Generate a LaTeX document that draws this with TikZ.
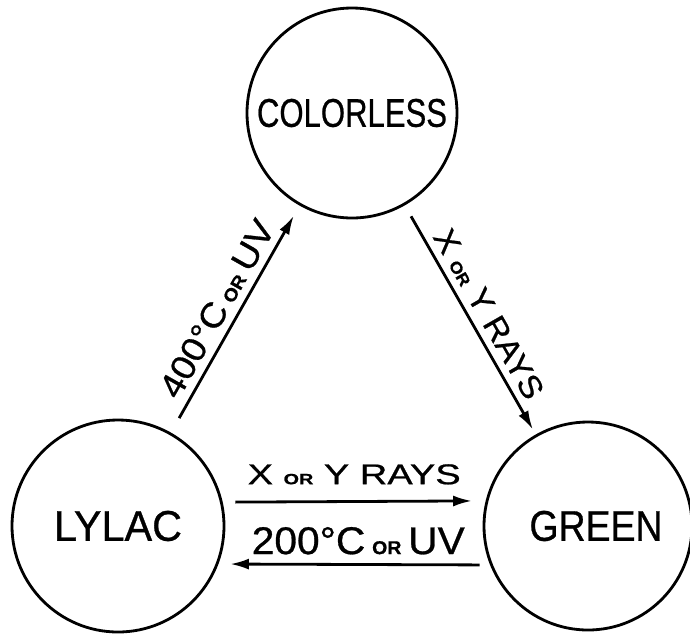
\documentclass[tikz,border=0pt]{standalone}
\usepackage{fontspec}
\setmainfont{Liberation Sans}[FakeBold=0.7]
\usetikzlibrary{arrows.meta}
\newcommand{\fitlbl}[3]{\resizebox{#1}{#2}{#3}}
\newcommand{\smor}{{\fontsize{5.2}{6}\selectfont\bfseries OR}}
\newcommand{\smorb}{{\fontsize{4.8}{6}\selectfont\bfseries OR}}
\begin{document}
\begin{tikzpicture}[x=1pt,y=-1pt,
  state/.style={circle, draw, line width=2.8pt, inner sep=0pt, outer sep=0pt, minimum size=#1},
  arr/.style={line width=2.8pt, -{Latex[length=19pt,width=11pt]}},
  lbl/.style={inner sep=0pt, outer sep=0pt}]
\useasboundingbox (0,0) rectangle (690,633);
\node[state=210pt] (colorless) at (352,113) {\fitlbl{190pt}{28pt}{COLORLESS}};
\node[state=212pt] (lylac) at (118,526) {\fitlbl{128pt}{30pt}{LYLAC}};
\node[state=208pt] (green) at (588,526) {\hspace*{16pt}\fitlbl{133pt}{30pt}{GREEN}};
\draw[arr, shorten <=18pt, shorten >=13pt] (lylac) -- (colorless)
  node[lbl, midway, sloped, above=9pt] {\fitlbl{198pt}{24pt}{400°C\,\smor\,UV}};
\draw[arr, shorten <=14pt, shorten >=7pt] (colorless) -- (green)
  node[lbl, midway, sloped, above=8pt, xshift=4pt] {\fitlbl{190pt}{22pt}{X \smor\ Y RAYS}};
\draw[arr, shorten <=14pt, shorten >=15pt] (lylac.13.1) -- (green.166.7)
  node[lbl, midway, above=17pt] {\fitlbl{213pt}{20pt}{X \smor\ Y RAYS}};
\draw[arr, shorten <=12pt, shorten >=13pt] (green.202) -- (lylac.-21.6)
  node[lbl, midway, above=10pt, xshift=4pt] {\fitlbl{213pt}{27pt}{200°C\,\smorb\,UV}};
\end{tikzpicture}
\end{document}
